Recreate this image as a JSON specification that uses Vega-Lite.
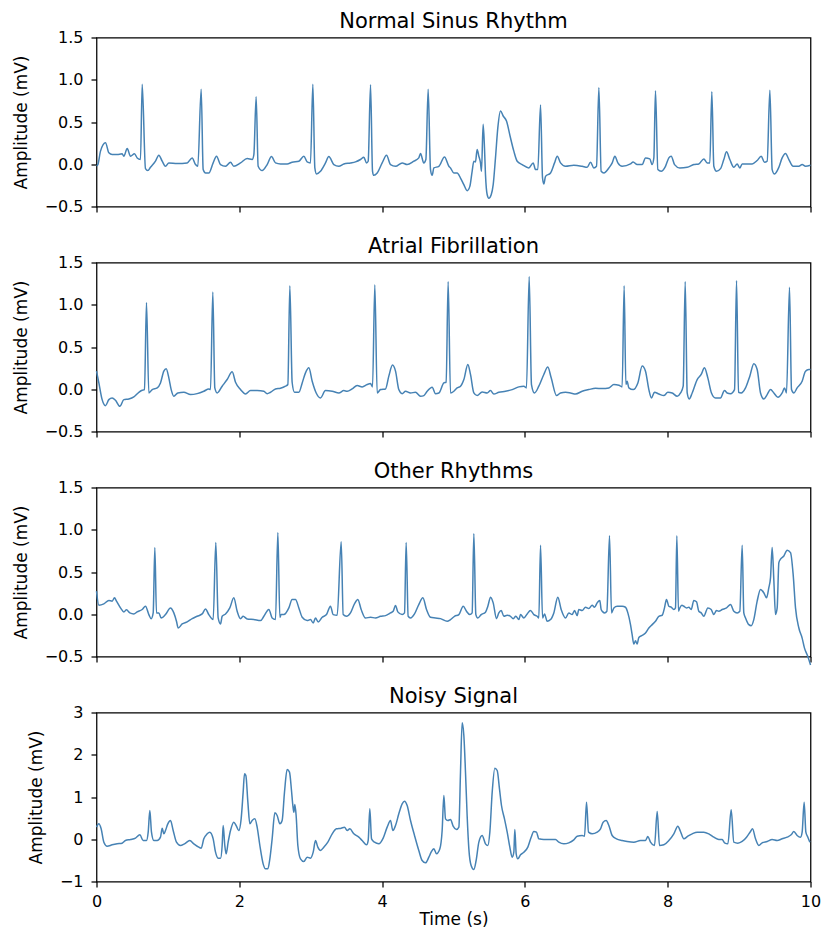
{
  "$schema": "https://vega.github.io/schema/vega-lite/v6.json",
  "background": "white",
  "padding": {"left": 11.5, "top": 9.5, "right": 3, "bottom": 8},
  "bounds": "flush",
  "spacing": 56,
  "config": {
    "view": {"stroke": "black", "strokeWidth": 1.25},
    "font": "DejaVu Sans",
    "axis": {
      "domain": false, "grid": false, "ticks": true,
      "tickSize": 5.5, "tickColor": "black", "tickWidth": 1.25,
      "labelFont": "DejaVu Sans", "labelFontSize": 16, "labelColor": "black",
      "titleFont": "DejaVu Sans", "titleFontSize": 17, "titleFontWeight": "normal", "titleColor": "black",
      "labelOverlap": false
    },
    "axisX": {"labelPadding": 6, "titlePadding": 2, "labelFlush": false},
    "axisY": {"labelPadding": 8, "titlePadding": 14},
    "title": {"font": "DejaVu Sans", "fontSize": 21, "fontWeight": "normal", "color": "black", "offset": -2, "frame": "group", "anchor": "middle", "baseline": "alphabetic"},
    "line": {"color": "#4682b4", "strokeWidth": 1.5, "clip": true, "interpolate": "monotone"}
  },
  "datasets": {
    "nsr": [
      {"t":0,"v":-0.02},{"t":0.019,"v":-0.004},{"t":0.056,"v":0.155},{"t":0.126,"v":0.254},{"t":0.173,"v":0.135},{"t":0.219,"v":0.115},{"t":0.289,"v":0.115},{"t":0.359,"v":0.123},{"t":0.383,"v":0.095},{"t":0.43,"v":0.187},{"t":0.476,"v":0.095},{"t":0.532,"v":0.123},{"t":0.57,"v":0.075},{"t":0.616,"v":0.056},{"t":0.64,"v":0.948},{"t":0.686,"v":-0.052},{"t":0.719,"v":-0.075},{"t":0.756,"v":-0.036},{"t":0.826,"v":0.036},{"t":0.873,"v":0.107},{"t":0.92,"v":0.036},{"t":0.966,"v":-0.024},{"t":1.013,"v":0.016},{"t":1.13,"v":0.008},{"t":1.27,"v":0.016},{"t":1.34,"v":0.075},{"t":1.387,"v":-0.004},{"t":1.419,"v":-0.024},{"t":1.466,"v":0.889},{"t":1.494,"v":-0.063},{"t":1.527,"v":-0.103},{"t":1.573,"v":-0.103},{"t":1.634,"v":0.016},{"t":1.681,"v":0.095},{"t":1.737,"v":-0.004},{"t":1.807,"v":-0.024},{"t":1.877,"v":0.024},{"t":1.923,"v":-0.024},{"t":2.017,"v":0.016},{"t":2.11,"v":0.067},{"t":2.18,"v":0.056},{"t":2.204,"v":0.115},{"t":2.236,"v":0.798},{"t":2.264,"v":-0.024},{"t":2.32,"v":-0.075},{"t":2.39,"v":-0.004},{"t":2.451,"v":0.091},{"t":2.507,"v":0.016},{"t":2.577,"v":0.004},{"t":2.67,"v":0.004},{"t":2.74,"v":0.024},{"t":2.834,"v":0.036},{"t":2.904,"v":0.095},{"t":2.95,"v":0.028},{"t":2.997,"v":0.016},{"t":3.03,"v":0.948},{"t":3.058,"v":-0.044},{"t":3.081,"v":-0.115},{"t":3.137,"v":-0.083},{"t":3.207,"v":0.016},{"t":3.254,"v":0.091},{"t":3.324,"v":-0.004},{"t":3.394,"v":-0.024},{"t":3.464,"v":0.004},{"t":3.557,"v":0.016},{"t":3.627,"v":0.028},{"t":3.697,"v":0.056},{"t":3.744,"v":0.083},{"t":3.782,"v":0.016},{"t":3.805,"v":0.036},{"t":3.838,"v":0.94},{"t":3.866,"v":-0.083},{"t":3.884,"v":-0.131},{"t":3.931,"v":-0.103},{"t":4.001,"v":0.016},{"t":4.062,"v":0.107},{"t":4.118,"v":-0.004},{"t":4.188,"v":-0.024},{"t":4.281,"v":0.016},{"t":4.351,"v":-0.004},{"t":4.444,"v":0.036},{"t":4.514,"v":0.075},{"t":4.538,"v":0.127},{"t":4.584,"v":0.016},{"t":4.613,"v":0.056},{"t":4.645,"v":0.889},{"t":4.678,"v":-0.063},{"t":4.701,"v":-0.131},{"t":4.725,"v":-0.044},{"t":4.795,"v":-0.024},{"t":4.874,"v":0.087},{"t":4.935,"v":-0.024},
      {"t":4.958,"v":-0.044},{"t":5.005,"v":-0.103},{"t":5.051,"v":-0.103},{"t":5.098,"v":-0.163},{"t":5.145,"v":-0.242},{"t":5.191,"v":-0.313},{"t":5.229,"v":-0.262},{"t":5.261,"v":-0.083},{"t":5.285,"v":0.036},{"t":5.308,"v":0.028},{"t":5.331,"v":0.175},{"t":5.355,"v":0.095},{"t":5.378,"v":0.016},{"t":5.392,"v":-0.083},{"t":5.415,"v":0.472},{"t":5.434,"v":0.194},{"t":5.448,"v":-0.123},{"t":5.472,"v":-0.361},{"t":5.495,"v":-0.401},{"t":5.528,"v":-0.361},{"t":5.556,"v":-0.242},{"t":5.588,"v":0.075},{"t":5.621,"v":0.433},{"t":5.658,"v":0.631},{"t":5.696,"v":0.571},{"t":5.742,"v":0.512},{"t":5.798,"v":0.313},{"t":5.845,"v":0.155},{"t":5.892,"v":0.036},{"t":5.962,"v":-0.004},{"t":6.055,"v":-0.044},{"t":6.116,"v":0.016},{"t":6.149,"v":-0.063},{"t":6.181,"v":-0.063},{"t":6.219,"v":0.702},{"t":6.247,"v":-0.163},{"t":6.265,"v":-0.234},{"t":6.289,"v":-0.143},{"t":6.359,"v":-0.103},{"t":6.415,"v":0.016},{"t":6.453,"v":0.095},{"t":6.499,"v":0.016},{"t":6.569,"v":-0.024},{"t":6.685,"v":-0.012},{"t":6.802,"v":-0.024},{"t":6.872,"v":-0.036},{"t":6.919,"v":0.024},{"t":6.965,"v":-0.044},{"t":7.003,"v":-0.024},{"t":7.036,"v":0.909},{"t":7.068,"v":-0.083},{"t":7.106,"v":-0.103},{"t":7.176,"v":-0.044},{"t":7.223,"v":0.016},{"t":7.26,"v":0.095},{"t":7.302,"v":0.016},{"t":7.362,"v":-0.024},{"t":7.479,"v":0.004},{"t":7.516,"v":0.028},{"t":7.572,"v":-0.004},{"t":7.642,"v":-0.004},{"t":7.689,"v":0.075},{"t":7.749,"v":0.063},{"t":7.782,"v":-0.004},{"t":7.806,"v":0.075},{"t":7.829,"v":0.869},{"t":7.862,"v":-0.063},{"t":7.908,"v":-0.083},{"t":7.969,"v":-0.024},{"t":8.016,"v":0.075},{"t":8.049,"v":0.095},{"t":8.096,"v":-0.004},{"t":8.17,"v":-0.044},{"t":8.273,"v":-0.036},{"t":8.366,"v":-0.004},{"t":8.436,"v":0.004},{"t":8.506,"v":0.063},{"t":8.553,"v":0.016},{"t":8.59,"v":0.016},{"t":8.618,"v":0.857},{"t":8.646,"v":-0.024},{"t":8.684,"v":-0.083},{"t":8.74,"v":-0.052},{"t":8.786,"v":0.056},{"t":8.824,"v":0.147},{"t":8.87,"v":0.056},{"t":8.926,"v":-0.036},{"t":8.973,"v":0.004},{"t":9.01,"v":-0.044},{"t":9.043,"v":0.004},{"t":9.113,"v":0.004},{"t":9.183,"v":0.004},{"t":9.253,"v":0.044},{"t":9.309,"v":0.095},{"t":9.356,"v":0.024},{"t":9.393,"v":0.036},{"t":9.431,"v":0.877},{"t":9.463,"v":-0.063},{"t":9.496,"v":-0.115},{"t":9.557,"v":-0.036},{"t":9.603,"v":0.075},{"t":9.65,"v":0.127},{"t":9.697,"v":0.056},{"t":9.757,"v":-0.024},{"t":9.837,"v":-0.024},{"t":9.883,"v":-0.004},{"t":9.93,"v":-0.024},{"t":10,"v":-0.012}
    ],
    "af": [
      {"t":0,"v":0.214},{"t":0.033,"v":0.075},{"t":0.079,"v":-0.123},{"t":0.126,"v":-0.194},{"t":0.173,"v":-0.123},{"t":0.219,"v":-0.103},{"t":0.266,"v":-0.131},{"t":0.327,"v":-0.202},{"t":0.383,"v":-0.123},{"t":0.453,"v":-0.115},{"t":0.523,"v":-0.091},{"t":0.593,"v":-0.036},{"t":0.64,"v":-0.012},{"t":0.672,"v":-0.004},{"t":0.7,"v":1.028},{"t":0.733,"v":-0.044},{"t":0.78,"v":-0.004},{"t":0.85,"v":0.016},{"t":0.896,"v":0.075},{"t":0.943,"v":0.214},{"t":0.976,"v":0.242},{"t":1.013,"v":0.135},{"t":1.046,"v":-0.004},{"t":1.083,"v":-0.083},{"t":1.139,"v":-0.044},{"t":1.223,"v":-0.036},{"t":1.317,"v":-0.063},{"t":1.41,"v":-0.052},{"t":1.503,"v":-0.024},{"t":1.573,"v":0.004},{"t":1.597,"v":-0.004},{"t":1.629,"v":1.151},{"t":1.657,"v":0.016},{"t":1.69,"v":-0.044},{"t":1.76,"v":0.036},{"t":1.83,"v":0.115},{"t":1.9,"v":0.206},{"t":1.947,"v":0.083},{"t":2.017,"v":-0.004},{"t":2.087,"v":-0.056},{"t":2.157,"v":-0.016},{"t":2.25,"v":-0.016},{"t":2.344,"v":-0.024},{"t":2.39,"v":-0.052},{"t":2.437,"v":-0.036},{"t":2.507,"v":0.004},{"t":2.577,"v":0.012},{"t":2.647,"v":0.036},{"t":2.68,"v":0.056},{"t":2.708,"v":1.226},{"t":2.74,"v":0.083},{"t":2.773,"v":-0.036},{"t":2.834,"v":-0.036},{"t":2.881,"v":0.075},{"t":2.927,"v":0.194},{"t":2.974,"v":0.254},{"t":3.021,"v":0.095},{"t":3.077,"v":-0.044},{"t":3.137,"v":-0.103},{"t":3.207,"v":-0.016},{"t":3.301,"v":-0.024},{"t":3.394,"v":-0.044},{"t":3.464,"v":-0.016},{"t":3.511,"v":-0.024},{"t":3.581,"v":0.004},{"t":3.651,"v":0.044},{"t":3.721,"v":0.028},{"t":3.791,"v":0.056},{"t":3.838,"v":0.067},{"t":3.866,"v":0.028},{"t":3.898,"v":1.238},{"t":3.931,"v":-0.044},{"t":3.978,"v":-0.004},{"t":4.048,"v":0.004},{"t":4.094,"v":0.155},{"t":4.146,"v":0.286},{"t":4.188,"v":0.214},{"t":4.234,"v":-0.004},{"t":4.281,"v":-0.052},{"t":4.328,"v":-0.024},{"t":4.398,"v":-0.044},{"t":4.468,"v":-0.036},{"t":4.538,"v":-0.083},{"t":4.585,"v":-0.075},{"t":4.631,"v":-0.024},{"t":4.701,"v":0.024},{"t":4.748,"v":-0.052},{"t":4.795,"v":-0.044},{"t":4.865,"v":0.075},{"t":4.897,"v":0.083},{"t":4.925,"v":1.274},
      {"t":4.958,"v":-0.044},{"t":5.005,"v":-0.024},{"t":5.051,"v":0.016},{"t":5.098,"v":0.036},{"t":5.145,"v":0.115},{"t":5.201,"v":0.294},{"t":5.238,"v":0.175},{"t":5.285,"v":-0.044},{"t":5.331,"v":-0.075},{"t":5.401,"v":-0.032},{"t":5.472,"v":-0.044},{"t":5.518,"v":-0.016},{"t":5.565,"v":-0.056},{"t":5.635,"v":-0.036},{"t":5.728,"v":-0.024},{"t":5.822,"v":-0.004},{"t":5.915,"v":0.028},{"t":5.985,"v":0.036},{"t":6.022,"v":0.016},{"t":6.06,"v":1.333},{"t":6.092,"v":0.056},{"t":6.134,"v":-0.044},{"t":6.195,"v":0.036},{"t":6.265,"v":0.175},{"t":6.321,"v":0.262},{"t":6.368,"v":0.135},{"t":6.443,"v":-0.075},{"t":6.499,"v":-0.044},{"t":6.569,"v":-0.036},{"t":6.639,"v":-0.044},{"t":6.709,"v":-0.056},{"t":6.802,"v":-0.024},{"t":6.895,"v":-0.004},{"t":6.989,"v":0.012},{"t":7.082,"v":0.008},{"t":7.176,"v":0.016},{"t":7.246,"v":0.056},{"t":7.316,"v":0.048},{"t":7.362,"v":0.028},{"t":7.39,"v":1.226},{"t":7.414,"v":0.056},{"t":7.432,"v":0.095},{"t":7.456,"v":0.016},{"t":7.516,"v":-0.004},{"t":7.582,"v":0.075},{"t":7.643,"v":0.274},{"t":7.689,"v":0.214},{"t":7.736,"v":-0.004},{"t":7.773,"v":-0.103},{"t":7.815,"v":-0.036},{"t":7.876,"v":-0.056},{"t":7.946,"v":-0.075},{"t":8.002,"v":-0.036},{"t":8.063,"v":-0.044},{"t":8.133,"v":-0.083},{"t":8.18,"v":-0.044},{"t":8.217,"v":0.036},{"t":8.245,"v":1.274},{"t":8.273,"v":-0.044},{"t":8.301,"v":-0.115},{"t":8.343,"v":-0.044},{"t":8.413,"v":0.115},{"t":8.469,"v":0.175},{"t":8.515,"v":0.254},{"t":8.562,"v":0.135},{"t":8.613,"v":-0.044},{"t":8.669,"v":-0.103},{"t":8.739,"v":-0.103},{"t":8.796,"v":-0.016},{"t":8.833,"v":-0.044},{"t":8.88,"v":-0.052},{"t":8.936,"v":-0.004},{"t":8.964,"v":1.286},{"t":8.992,"v":-0.036},{"t":9.029,"v":-0.044},{"t":9.09,"v":0.016},{"t":9.15,"v":0.155},{"t":9.206,"v":0.302},{"t":9.253,"v":0.234},{"t":9.3,"v":-0.044},{"t":9.346,"v":-0.115},{"t":9.393,"v":-0.063},{"t":9.44,"v":-0.004},{"t":9.487,"v":-0.044},{"t":9.543,"v":-0.095},{"t":9.603,"v":-0.044},{"t":9.636,"v":0.016},{"t":9.664,"v":-0.044},{"t":9.706,"v":1.206},{"t":9.734,"v":-0.004},{"t":9.767,"v":-0.044},{"t":9.813,"v":0.016},{"t":9.883,"v":0.095},{"t":9.93,"v":0.214},{"t":9.977,"v":0.234},{"t":10,"v":0.235}
    ],
    "other": [
      {"t":0,"v":0.274},{"t":0.033,"v":0.107},{"t":0.103,"v":0.123},{"t":0.173,"v":0.163},{"t":0.219,"v":0.155},{"t":0.252,"v":0.194},{"t":0.28,"v":0.155},{"t":0.336,"v":0.075},{"t":0.383,"v":0.028},{"t":0.42,"v":0.052},{"t":0.467,"v":0.016},{"t":0.523,"v":0.004},{"t":0.57,"v":0.028},{"t":0.64,"v":0.056},{"t":0.686,"v":0.095},{"t":0.733,"v":-0.004},{"t":0.766,"v":-0.052},{"t":0.794,"v":0.016},{"t":0.817,"v":0.79},{"t":0.84,"v":0.016},{"t":0.873,"v":0.016},{"t":0.906,"v":-0.044},{"t":0.966,"v":-0.004},{"t":1.036,"v":0.075},{"t":1.083,"v":0.016},{"t":1.12,"v":-0.083},{"t":1.144,"v":-0.163},{"t":1.2,"v":-0.115},{"t":1.27,"v":-0.091},{"t":1.34,"v":-0.052},{"t":1.41,"v":-0.024},{"t":1.48,"v":0.004},{"t":1.527,"v":0.063},{"t":1.573,"v":-0.004},{"t":1.634,"v":-0.063},{"t":1.671,"v":0.849},{"t":1.704,"v":-0.044},{"t":1.737,"v":-0.115},{"t":1.76,"v":-0.024},{"t":1.807,"v":0.004},{"t":1.867,"v":0.075},{"t":1.923,"v":0.194},{"t":1.97,"v":0.036},{"t":2.017,"v":-0.052},{"t":2.054,"v":-0.024},{"t":2.11,"v":-0.056},{"t":2.204,"v":-0.063},{"t":2.297,"v":-0.075},{"t":2.344,"v":-0.024},{"t":2.414,"v":0.056},{"t":2.46,"v":-0.044},{"t":2.507,"v":-0.063},{"t":2.54,"v":0.968},{"t":2.568,"v":-0.036},{"t":2.586,"v":-0.004},{"t":2.624,"v":-0.004},{"t":2.694,"v":0.075},{"t":2.74,"v":0.175},{"t":2.787,"v":0.175},{"t":2.834,"v":0.075},{"t":2.881,"v":-0.036},{"t":2.95,"v":-0.075},{"t":2.997,"v":-0.063},{"t":3.035,"v":-0.103},{"t":3.067,"v":-0.044},{"t":3.105,"v":-0.091},{"t":3.161,"v":-0.036},{"t":3.221,"v":-0.004},{"t":3.277,"v":0.095},{"t":3.315,"v":-0.004},{"t":3.371,"v":-0.012},{"t":3.427,"v":0.857},{"t":3.455,"v":-0.004},{"t":3.501,"v":-0.024},{"t":3.557,"v":0.016},{"t":3.613,"v":0.123},{"t":3.66,"v":0.175},{"t":3.707,"v":0.056},{"t":3.768,"v":-0.044},{"t":3.838,"v":-0.036},{"t":3.908,"v":-0.044},{"t":3.978,"v":-0.024},{"t":4.048,"v":-0.016},{"t":4.118,"v":0.016},{"t":4.155,"v":0.036},{"t":4.188,"v":0.103},{"t":4.22,"v":0.028},{"t":4.281,"v":-0.004},{"t":4.314,"v":0.016},{"t":4.337,"v":0.849},{"t":4.365,"v":-0.024},{"t":4.398,"v":-0.044},{"t":4.454,"v":0.004},{"t":4.514,"v":0.115},{"t":4.571,"v":0.194},{"t":4.622,"v":0.056},{"t":4.678,"v":-0.036},{"t":4.748,"v":-0.044},{"t":4.818,"v":-0.052},{"t":4.911,"v":-0.083},
      {"t":4.958,"v":-0.063},{"t":5.014,"v":-0.024},{"t":5.075,"v":-0.004},{"t":5.136,"v":0.095},{"t":5.182,"v":0.036},{"t":5.229,"v":-0.004},{"t":5.261,"v":0.016},{"t":5.285,"v":0.956},{"t":5.313,"v":-0.004},{"t":5.341,"v":-0.044},{"t":5.388,"v":-0.004},{"t":5.448,"v":0.024},{"t":5.481,"v":0.095},{"t":5.519,"v":0.202},{"t":5.556,"v":0.135},{"t":5.602,"v":-0.052},{"t":5.635,"v":0.016},{"t":5.668,"v":0.044},{"t":5.705,"v":-0.024},{"t":5.752,"v":-0.012},{"t":5.798,"v":-0.024},{"t":5.836,"v":-0.052},{"t":5.873,"v":-0.024},{"t":5.915,"v":-0.063},{"t":5.939,"v":-0.004},{"t":5.985,"v":-0.044},{"t":6.032,"v":0.004},{"t":6.078,"v":0.044},{"t":6.125,"v":-0.004},{"t":6.172,"v":-0.024},{"t":6.195,"v":-0.044},{"t":6.219,"v":0.817},{"t":6.247,"v":-0.044},{"t":6.275,"v":0.004},{"t":6.312,"v":-0.083},{"t":6.359,"v":-0.063},{"t":6.405,"v":0.016},{"t":6.461,"v":0.202},{"t":6.508,"v":0.056},{"t":6.569,"v":-0.044},{"t":6.615,"v":0.016},{"t":6.662,"v":-0.004},{"t":6.695,"v":0.044},{"t":6.732,"v":-0.016},{"t":6.755,"v":0.056},{"t":6.802,"v":0.044},{"t":6.849,"v":0.083},{"t":6.895,"v":0.067},{"t":6.942,"v":0.107},{"t":6.975,"v":0.083},{"t":7.012,"v":0.135},{"t":7.049,"v":0.163},{"t":7.068,"v":0.056},{"t":7.092,"v":0.028},{"t":7.115,"v":0.016},{"t":7.148,"v":0.036},{"t":7.185,"v":0.929},{"t":7.213,"v":0.016},{"t":7.246,"v":0.075},{"t":7.293,"v":0.095},{"t":7.363,"v":0.095},{"t":7.409,"v":0.083},{"t":7.442,"v":0.016},{"t":7.479,"v":-0.123},{"t":7.502,"v":-0.242},{"t":7.526,"v":-0.353},{"t":7.549,"v":-0.313},{"t":7.572,"v":-0.353},{"t":7.596,"v":-0.274},{"t":7.643,"v":-0.25},{"t":7.689,"v":-0.222},{"t":7.736,"v":-0.163},{"t":7.783,"v":-0.123},{"t":7.829,"v":-0.083},{"t":7.876,"v":-0.024},{"t":7.923,"v":-0.012},{"t":7.955,"v":0.075},{"t":7.983,"v":0.175},{"t":8.016,"v":0.095},{"t":8.049,"v":0.083},{"t":8.086,"v":0.056},{"t":8.109,"v":0.075},{"t":8.128,"v":0.929},{"t":8.151,"v":0.036},{"t":8.17,"v":0.075},{"t":8.198,"v":0.107},{"t":8.226,"v":0.095},{"t":8.263,"v":0.075},{"t":8.296,"v":0.083},{"t":8.329,"v":0.056},{"t":8.366,"v":0.163},{"t":8.403,"v":0.147},{"t":8.436,"v":0.036},{"t":8.469,"v":0.016},{"t":8.506,"v":-0.024},{"t":8.562,"v":0.075},{"t":8.609,"v":0.056},{"t":8.646,"v":-0.004},{"t":8.683,"v":0.044},{"t":8.716,"v":0.036},{"t":8.763,"v":0.056},{"t":8.824,"v":0.075},{"t":8.88,"v":0.115},{"t":8.926,"v":0.036},{"t":8.973,"v":0.016},{"t":9.01,"v":0.036},{"t":9.043,"v":0.817},{"t":9.066,"v":0.016},{"t":9.09,"v":-0.044},{"t":9.136,"v":-0.123},{"t":9.169,"v":-0.135},{"t":9.206,"v":-0.063},{"t":9.253,"v":0.155},{"t":9.3,"v":0.294},{"t":9.346,"v":0.254},{"t":9.384,"v":0.194},{"t":9.416,"v":0.313},{"t":9.44,"v":0.433},{"t":9.463,"v":0.79},{"t":9.487,"v":0.393},{"t":9.51,"v":-0.004},{"t":9.533,"v":0.075},{"t":9.557,"v":0.611},{"t":9.58,"v":0.651},{"t":9.627,"v":0.69},{"t":9.673,"v":0.758},{"t":9.72,"v":0.73},{"t":9.757,"v":0.472},{"t":9.79,"v":0.075},{"t":9.837,"v":-0.163},{"t":9.883,"v":-0.282},{"t":9.916,"v":-0.401},{"t":9.963,"v":-0.5},{"t":10,"v":-0.6}
    ],
    "noisy": [
      {"t":0,"v":0.286},{"t":0.033,"v":0.365},{"t":0.065,"v":0.247},{"t":0.103,"v":-0.069},{"t":0.149,"v":-0.164},{"t":0.219,"v":-0.132},{"t":0.289,"v":-0.108},{"t":0.359,"v":-0.093},{"t":0.406,"v":-0.03},{"t":0.476,"v":-0.006},{"t":0.546,"v":0.026},{"t":0.607,"v":0.105},{"t":0.654,"v":-0.03},{"t":0.7,"v":-0.03},{"t":0.724,"v":0.168},{"t":0.747,"v":0.68},{"t":0.77,"v":0.168},{"t":0.803,"v":-0.03},{"t":0.85,"v":-0.03},{"t":0.896,"v":0.049},{"t":0.92,"v":0.262},{"t":0.943,"v":0.128},{"t":0.966,"v":0.207},{"t":0.999,"v":0.365},{"t":1.036,"v":0.444},{"t":1.074,"v":0.207},{"t":1.12,"v":-0.069},{"t":1.176,"v":-0.148},{"t":1.232,"v":-0.108},{"t":1.307,"v":-0.03},{"t":1.363,"v":-0.108},{"t":1.433,"v":-0.187},{"t":1.466,"v":-0.211},{"t":1.503,"v":0.01},{"t":1.55,"v":0.128},{"t":1.587,"v":0.168},{"t":1.634,"v":0.01},{"t":1.667,"v":-0.306},{"t":1.704,"v":-0.448},{"t":1.737,"v":-0.448},{"t":1.76,"v":-0.148},{"t":1.774,"v":0.325},{"t":1.797,"v":-0.148},{"t":1.816,"v":-0.345},{"t":1.844,"v":-0.069},{"t":1.877,"v":0.207},{"t":1.923,"v":0.404},{"t":1.956,"v":0.325},{"t":1.993,"v":0.207},{"t":2.026,"v":0.483},{"t":2.054,"v":1.115},{"t":2.073,"v":1.549},{"t":2.092,"v":1.509},{"t":2.12,"v":0.878},{"t":2.148,"v":0.365},{"t":2.18,"v":0.444},{"t":2.218,"v":0.483},{"t":2.25,"v":0.286},{"t":2.288,"v":-0.148},{"t":2.334,"v":-0.582},{"t":2.367,"v":-0.7},{"t":2.4,"v":-0.7},{"t":2.428,"v":-0.464},{"t":2.46,"v":0.01},{"t":2.498,"v":0.625},{"t":2.53,"v":0.562},{"t":2.568,"v":0.365},{"t":2.6,"v":0.444},{"t":2.633,"v":1.115},{"t":2.67,"v":1.651},{"t":2.703,"v":1.588},{"t":2.731,"v":1.154},{"t":2.75,"v":0.799},{"t":2.764,"v":0.641},{"t":2.778,"v":0.823},{"t":2.796,"v":0.562},{"t":2.82,"v":-0.148},{"t":2.857,"v":-0.464},{"t":2.904,"v":-0.527},{"t":2.95,"v":-0.424},{"t":2.997,"v":-0.448},{"t":3.035,"v":-0.306},{"t":3.067,"v":-0.03},{"t":3.1,"v":-0.187},{"t":3.137,"v":-0.266},{"t":3.184,"v":-0.187},{"t":3.24,"v":-0.069},{"t":3.301,"v":0.128},{"t":3.361,"v":0.247},{"t":3.427,"v":0.262},{"t":3.473,"v":0.286},{"t":3.511,"v":0.207},{"t":3.548,"v":0.247},{"t":3.604,"v":0.128},{"t":3.674,"v":0.049},{"t":3.721,"v":-0.03},{"t":3.782,"v":-0.132},{"t":3.805,"v":-0.03},{"t":3.828,"v":0.72},{"t":3.852,"v":0.01},{"t":3.894,"v":-0.069},{"t":3.954,"v":-0.108},{"t":4.015,"v":0.026},{"t":4.071,"v":0.286},{"t":4.118,"v":0.444},{"t":4.15,"v":0.207},{"t":4.188,"v":0.325},{"t":4.234,"v":0.602},{"t":4.281,"v":0.838},{"t":4.314,"v":0.901},{"t":4.351,"v":0.799},{"t":4.398,"v":0.444},{"t":4.454,"v":0.089},{"t":4.514,"v":-0.266},{"t":4.561,"v":-0.503},{"t":4.608,"v":-0.558},{"t":4.655,"v":-0.424},{"t":4.687,"v":-0.306},{"t":4.725,"v":-0.227},{"t":4.762,"v":-0.345},{"t":4.809,"v":-0.227},{"t":4.841,"v":0.207},{"t":4.865,"v":1.036},{"t":4.888,"v":0.483},{"t":4.921,"v":0.444},
      {"t":4.958,"v":0.468},{"t":4.995,"v":0.31},{"t":5.042,"v":0.231},{"t":5.075,"v":0.286},{"t":5.098,"v":1.588},{"t":5.121,"v":2.755},{"t":5.145,"v":2.456},{"t":5.168,"v":1.588},{"t":5.191,"v":0.562},{"t":5.215,"v":-0.227},{"t":5.247,"v":-0.621},{"t":5.285,"v":-0.716},{"t":5.317,"v":-0.503},{"t":5.355,"v":-0.069},{"t":5.401,"v":0.089},{"t":5.448,"v":-0.108},{"t":5.481,"v":-0.148},{"t":5.509,"v":0.168},{"t":5.542,"v":1.115},{"t":5.579,"v":1.682},{"t":5.612,"v":1.627},{"t":5.644,"v":1.193},{"t":5.672,"v":0.799},{"t":5.714,"v":0.483},{"t":5.752,"v":0.168},{"t":5.789,"v":-0.187},{"t":5.822,"v":-0.424},{"t":5.845,"v":-0.306},{"t":5.859,"v":0.231},{"t":5.878,"v":-0.345},{"t":5.901,"v":-0.464},{"t":5.939,"v":-0.369},{"t":5.985,"v":-0.306},{"t":6.041,"v":-0.187},{"t":6.088,"v":0.049},{"t":6.125,"v":0.184},{"t":6.162,"v":0.168},{"t":6.195,"v":0.01},{"t":6.265,"v":-0.006},{"t":6.359,"v":-0.006},{"t":6.429,"v":-0.006},{"t":6.475,"v":-0.069},{"t":6.545,"v":-0.108},{"t":6.615,"v":-0.085},{"t":6.685,"v":-0.014},{"t":6.732,"v":0.073},{"t":6.802,"v":0.089},{"t":6.835,"v":0.073},{"t":6.863,"v":0.878},{"t":6.891,"v":0.168},{"t":6.942,"v":0.128},{"t":7.012,"v":0.168},{"t":7.059,"v":0.247},{"t":7.096,"v":0.404},{"t":7.138,"v":0.444},{"t":7.176,"v":0.325},{"t":7.222,"v":0.089},{"t":7.283,"v":0.01},{"t":7.362,"v":-0.03},{"t":7.432,"v":-0.053},{"t":7.526,"v":-0.069},{"t":7.619,"v":-0.03},{"t":7.689,"v":-0.03},{"t":7.722,"v":0.065},{"t":7.759,"v":-0.069},{"t":7.815,"v":-0.148},{"t":7.853,"v":0.657},{"t":7.885,"v":-0.148},{"t":7.946,"v":-0.132},{"t":8.016,"v":-0.03},{"t":8.086,"v":0.128},{"t":8.142,"v":0.31},{"t":8.179,"v":0.184},{"t":8.226,"v":0.01},{"t":8.282,"v":0.073},{"t":8.343,"v":0.128},{"t":8.413,"v":0.168},{"t":8.506,"v":0.168},{"t":8.576,"v":0.128},{"t":8.646,"v":0.049},{"t":8.716,"v":-0.006},{"t":8.763,"v":-0.006},{"t":8.796,"v":-0.085},{"t":8.843,"v":-0.108},{"t":8.889,"v":0.697},{"t":8.926,"v":-0.069},{"t":8.982,"v":-0.093},{"t":9.043,"v":-0.053},{"t":9.104,"v":0.049},{"t":9.16,"v":0.184},{"t":9.188,"v":0.247},{"t":9.23,"v":0.01},{"t":9.276,"v":-0.148},{"t":9.323,"v":-0.085},{"t":9.393,"v":-0.053},{"t":9.463,"v":-0.006},{"t":9.533,"v":-0.03},{"t":9.603,"v":0.01},{"t":9.673,"v":0.049},{"t":9.729,"v":0.105},{"t":9.767,"v":0.184},{"t":9.813,"v":0.089},{"t":9.86,"v":0.049},{"t":9.883,"v":0.168},{"t":9.911,"v":0.878},{"t":9.935,"v":0.168},{"t":9.963,"v":0.049},{"t":9.991,"v":-0.069}
    ]
  },
  "vconcat": [
    {
      "title": "Normal Sinus Rhythm",
      "width": 714, "height": 169,
      "data": {"name": "nsr"},
      "mark": {"type": "line"},
      "encoding": {
        "x": {"field": "t", "type": "quantitative", "scale": {"domain": [0, 10], "nice": false}, "axis": {"values": [0, 2, 4, 6, 8, 10], "labels": false, "title": null}},
        "y": {"field": "v", "type": "quantitative", "scale": {"domain": [-0.5, 1.5], "nice": false, "zero": false}, "axis": {"values": [-0.5, 0, 0.5, 1, 1.5], "format": ".1f", "title": "Amplitude (mV)"}}
      }
    },
    {
      "title": "Atrial Fibrillation",
      "width": 714, "height": 169,
      "data": {"name": "af"},
      "mark": {"type": "line"},
      "encoding": {
        "x": {"field": "t", "type": "quantitative", "scale": {"domain": [0, 10], "nice": false}, "axis": {"values": [0, 2, 4, 6, 8, 10], "labels": false, "title": null}},
        "y": {"field": "v", "type": "quantitative", "scale": {"domain": [-0.5, 1.5], "nice": false, "zero": false}, "axis": {"values": [-0.5, 0, 0.5, 1, 1.5], "format": ".1f", "title": "Amplitude (mV)"}}
      }
    },
    {
      "title": "Other Rhythms",
      "width": 714, "height": 169,
      "data": {"name": "other"},
      "mark": {"type": "line"},
      "encoding": {
        "x": {"field": "t", "type": "quantitative", "scale": {"domain": [0, 10], "nice": false}, "axis": {"values": [0, 2, 4, 6, 8, 10], "labels": false, "title": null}},
        "y": {"field": "v", "type": "quantitative", "scale": {"domain": [-0.5, 1.5], "nice": false, "zero": false}, "axis": {"values": [-0.5, 0, 0.5, 1, 1.5], "format": ".1f", "title": "Amplitude (mV)"}}
      }
    },
    {
      "title": "Noisy Signal",
      "width": 714, "height": 169,
      "data": {"name": "noisy"},
      "mark": {"type": "line"},
      "encoding": {
        "x": {"field": "t", "type": "quantitative", "scale": {"domain": [0, 10], "nice": false}, "axis": {"values": [0, 2, 4, 6, 8, 10], "format": "d", "title": "Time (s)"}},
        "y": {"field": "v", "type": "quantitative", "scale": {"domain": [-1, 3], "nice": false, "zero": false}, "axis": {"values": [-1, 0, 1, 2, 3], "format": "d", "title": "Amplitude (mV)"}}
      }
    }
  ]
}
